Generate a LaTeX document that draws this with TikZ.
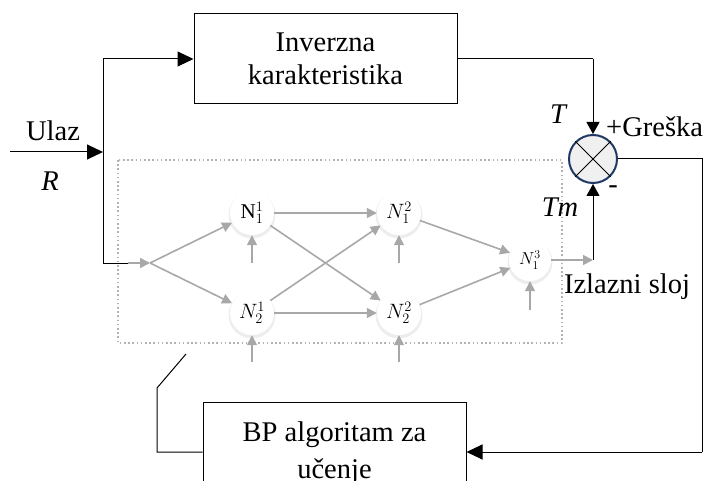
\documentclass[tikz,border=0pt]{standalone}
\usepackage{fontspec}
\setmainfont{Liberation Serif}
\usetikzlibrary{arrows.meta,calc}
\definecolor{navy}{HTML}{1F3864}
\definecolor{garr}{HTML}{A8A8A8}
\begin{document}
\begin{tikzpicture}[x=1pt,y=-1pt,
  txt/.style={font=\fontsize{28.5}{33}\selectfont, inner sep=0pt},
  blockbox/.style={draw, line width=1pt, align=center, font=\fontsize{28.5}{33}\selectfont, inner sep=0pt},
  neuron/.style={circle, fill=white, minimum size=44pt, inner sep=0pt, font=\fontsize{21}{23}\selectfont},
  glow/.style={fill=gray!14},
  garrow/.style={draw=garr, line width=1.6pt, -{Triangle[length=10pt,width=10pt]}},
  barrow/.style={line width=1pt, -{Triangle[length=16pt,width=15pt]}},
  sarrow/.style={line width=1pt, -{Triangle[length=12pt,width=13pt]}},
  bline/.style={line width=1pt}]
\useasboundingbox (0,0) rectangle (704,481);
\clip (0,0) rectangle (704,481);

% blocks
\node[blockbox, minimum width=263pt, minimum height=90pt] (inv) at (325.5,59) {Inverzna\\karakteristika};
\node[blockbox, minimum width=263pt, minimum height=102pt] (bp) at (334.5,453) {BP algoritam za\\[4pt]u\v{c}enje};

% summing junction
\node[circle, draw=navy, fill=gray!12, line width=2pt, minimum size=48pt, inner sep=0pt] (sum) at (593,159) {};
\draw[line width=1pt] (sum.north west) -- (sum.south east);
\draw[line width=1pt] (sum.north east) -- (sum.south west);

% dotted hidden-layer frame
\draw[draw=gray!60, line width=1.6pt, dash pattern=on 1.6pt off 2.6pt] (118,160) rectangle (562,343);

% neurons
\foreach \p/\r in {{(252,215)}/23.5, {(399,215)}/23.5, {(252,315)}/23.5, {(399,315)}/23.5, {(530,262)}/22.5}
  \fill[glow] \p circle (\r pt);
\node[neuron] (n11) at (252,213) {$\mathrm{N}_1^1$};
\node[neuron] (n12) at (399,213) {$N_1^2$};
\node[neuron] (n21) at (252,313) {$N_2^1$};
\node[neuron] (n22) at (399,313) {$N_2^2$};
\node[neuron, minimum size=42pt, font=\fontsize{17}{19}\selectfont] (n13) at (530,260) {$N_1^3$};

% coordinates
\coordinate (inL) at (10,152);
\coordinate (jin) at (103,152);
\coordinate (jtop) at (103,59);
\coordinate (jbot) at (103,263);
\coordinate (jb2) at (138,263);
\coordinate (split) at (150,263);
\coordinate (tcorner) at (593,59);
\coordinate (outg) at (593,260);
\coordinate (rc1) at (702,159);
\coordinate (rc2) at (702,452);
\coordinate (lc1) at (157,452);
\coordinate (lc2) at (157,388);
\coordinate (lc3) at (186,354);
\coordinate (b11) at (252,263);
\coordinate (b12) at (399,263);
\coordinate (b21) at (252,362);
\coordinate (b22) at (399,362);
\coordinate (b13) at (530,310);

% black connectors
\draw[barrow] (inL) -- (jin);
\draw[bline] (jbot) -- (jtop);
\draw[barrow] (jtop) -- (inv.west);
\draw[bline] (jbot) -- (jb2);
\draw[bline] (inv.east) -- (tcorner);
\draw[sarrow] (tcorner) -- (sum.north);
\draw[sarrow] (outg) -- (sum.south);
\draw[bline] (sum.east) -- (rc1) -- (rc2);
\draw[barrow] (rc2) -- (rc2 -| bp.east);
\draw[bline] (rc2 -| bp.west) -- (lc1) -- (lc2) -- (lc3);

% gray connectors
\draw[garrow] (128,263) -- (split);
\draw[garrow] (split) -- (n11);
\draw[garrow] (split) -- (n21);
\draw[garrow] (n11) -- (n12);
\draw[garrow] (n11) -- (n22);
\draw[garrow] (n21) -- (n12);
\draw[garrow] (n21) -- (n22);
\draw[garrow] (n12) -- (n13);
\draw[garrow] (n22) -- (n13);
\draw[garrow] (n13) -- (outg);
\draw[garrow] (b11) -- (n11.south);
\draw[garrow] (b12) -- (n12.south);
\draw[garrow] (b21) -- (n21.south);
\draw[garrow] (b22) -- (n22.south);
\draw[garrow] (b13) -- (n13.south);

% labels
\node[txt] (ulaz) at (53,131) {Ulaz};
\node[txt] (rlab) at (50,181) {\itshape R};
\node[txt] (tlab) at (558,114) {\itshape T};
\node[txt] (tmlab) at (560,207) {\itshape Tm};
\node[txt, anchor=west] (greska) at (606,127) {+Gre\v{s}ka};
\node[txt] (minus) at (613,190) {-};
\node[txt] (izl) at (627,287) {Izlazni sloj};
\end{tikzpicture}
\end{document}
